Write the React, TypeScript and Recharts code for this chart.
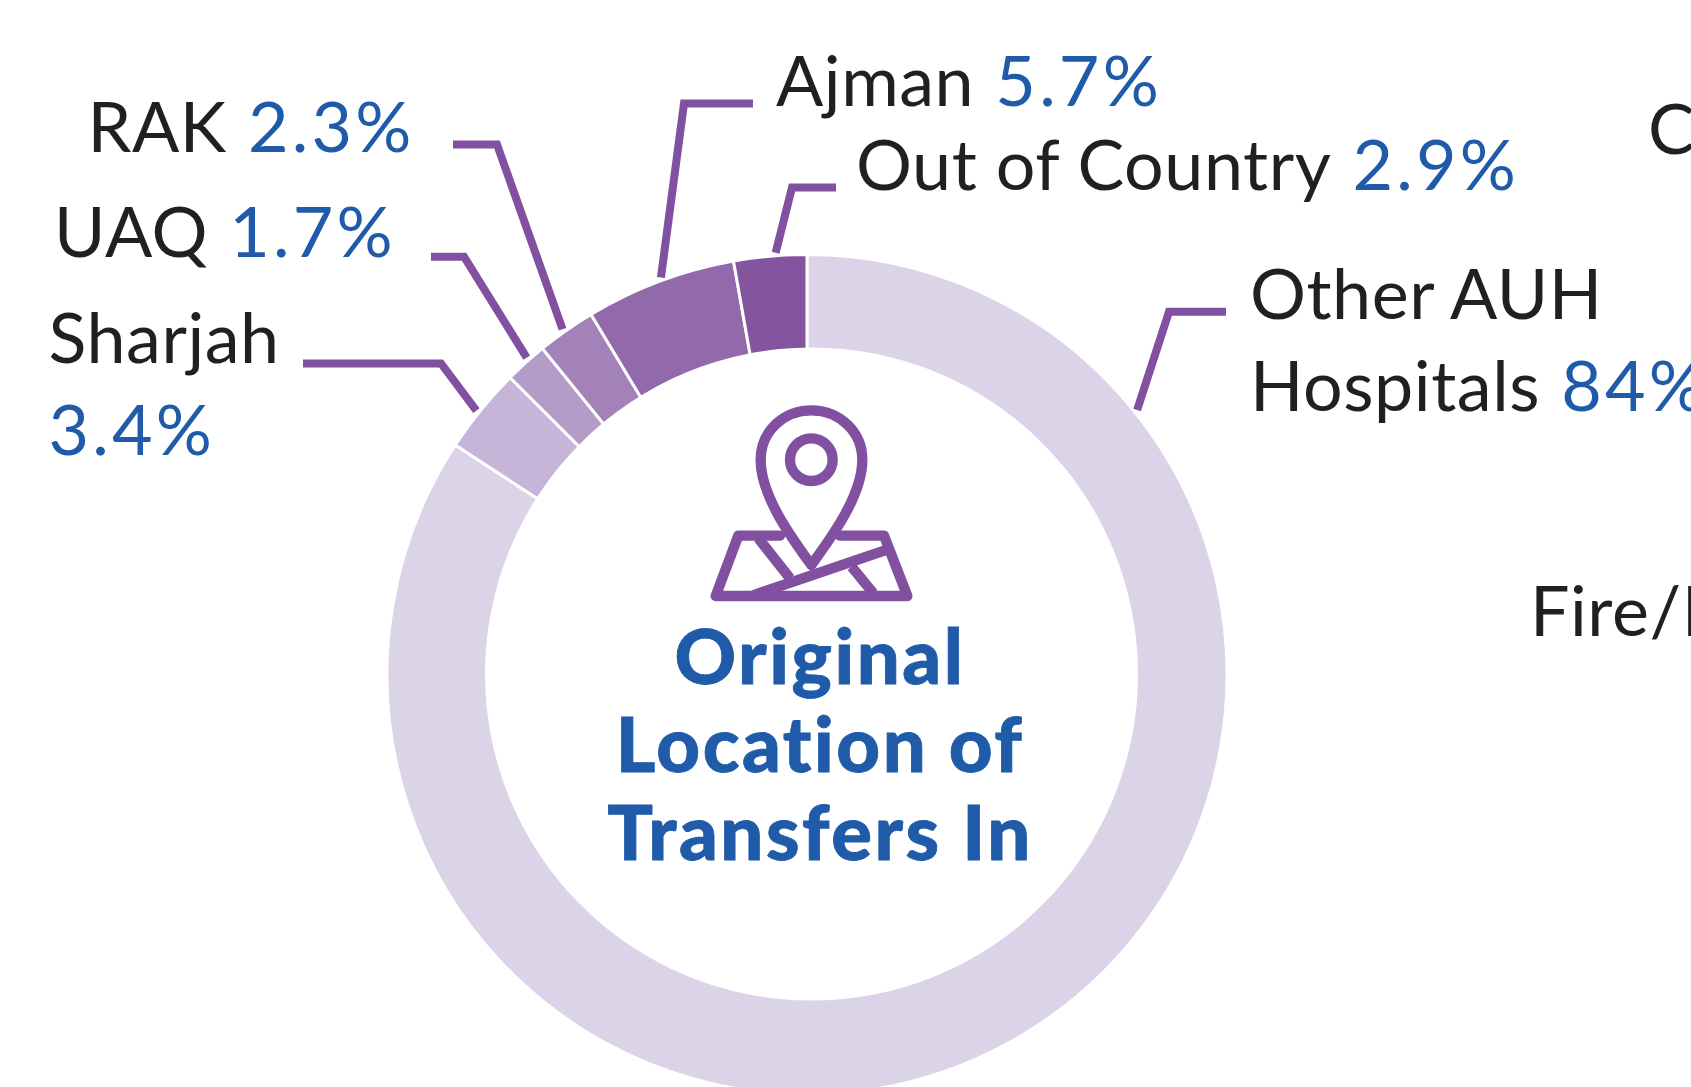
import React from "react";
import { PieChart, Pie, Cell } from "recharts";

const categories = ["Other AUH Hospitals", "Sharjah", "UAQ", "RAK", "Ajman", "Out of Country"];
const shares = [84.2, 3.3, 1.65, 2.25, 5.8, 2.8];
const valueLabels = ["84%", "3.4%", "1.7%", "2.3%", "5.7%", "2.9%"];
const sliceColors = ["#DBD3E8", "#C6B5D8", "#B49CC8", "#A282B8", "#9269AB", "#84549F"];
const titleLines = ["Original", "Location of", "Transfers In"];

const data = categories.map((name, i) => ({ name, value: shares[i] }));

const INK = "#231F20";
const BLUE = "#1F5BA8";
const LINE = "#8250A0";
const FONT = "Lato, 'Open Sans', sans-serif";
const LABEL_SIZE = 70;
const W = 1691;
const H = 1087;

type Layout = {
  lines: { x: number; y: number; name?: string; value?: boolean }[];
  elbow: [number, number];
  end: [number, number];
  angle: number;
};

const layouts: Layout[] = [
  {
    lines: [
      { x: 1250, y: 319, name: "Other AUH" },
      { x: 1250, y: 411, name: "Hospitals", value: true },
    ],
    elbow: [1169, 311.7],
    end: [1226, 311.7],
    angle: 38.7,
  },
  {
    lines: [
      { x: 48.5, y: 363.4, name: "Sharjah" },
      { x: 48.5, y: 455, value: true },
    ],
    elbow: [441, 363.4],
    end: [303, 363.4],
    angle: 141.4,
  },
  { lines: [{ x: 54, y: 256.7, name: "UAQ", value: true }], elbow: [464, 256.7], end: [431, 256.7], angle: 131.5 },
  { lines: [{ x: 87.5, y: 152, name: "RAK", value: true }], elbow: [497, 144.5], end: [453, 144.5], angle: 125.3 },
  { lines: [{ x: 776, y: 105.7, name: "Ajman", value: true }], elbow: [684, 103.5], end: [753, 103.5], angle: 110.2 },
  { lines: [{ x: 856, y: 190, name: "Out of Country", value: true }], elbow: [792, 187.6], end: [836, 187.6], angle: 94.25 },
];

function renderLabel(props: any) {
  const { cx, cy, outerRadius, index } = props;
  const l = layouts[index];
  const a = (l.angle * Math.PI) / 180;
  const r = outerRadius + 3;
  const sx = cx + r * Math.cos(a);
  const sy = cy - r * Math.sin(a);
  return (
    <g key={index}>
      <polyline
        points={`${sx},${sy} ${l.elbow[0]},${l.elbow[1]} ${l.end[0]},${l.end[1]}`}
        fill="none"
        stroke={LINE}
        strokeWidth={8}
        strokeLinejoin="miter"
      />
      {l.lines.map((t, i) => (
        <text key={i} x={t.x} y={t.y} fontFamily={FONT} fontSize={LABEL_SIZE} fill={INK} textAnchor="start">
          {t.name ? <tspan letterSpacing={0.55}>{t.name}</tspan> : null}
          {t.value ? (
            <tspan fill={BLUE} letterSpacing={3.2}>{(t.name ? " " : "") + valueLabels[index]}</tspan>
          ) : null}
        </text>
      ))}
    </g>
  );
}

function MapIcon() {
  return (
    <g transform="translate(680 390) scale(0.3333)" fill="none" stroke={LINE} strokeWidth={31} strokeLinejoin="round" strokeLinecap="round">
      <path d="M394,525 C340,450 242,320 242,210 C242,125 310,61 394,61 C478,61 547,125 547,210 C547,320 448,450 394,525 Z" />
      <circle cx={394} cy={209} r={64} />
      <path d="M300,437 L175,437 L107,618 L682,618 L612,437 L480,437" />
      <path d="M225,614 L615,481" />
      <path d="M235,445 L330,565" strokeLinecap="butt" />
      <path d="M515,530 L580,610" strokeLinecap="butt" />
    </g>
  );
}

export default function App() {
  return (
    <div style={{ position: "absolute", left: 0, top: 0, width: W, height: H, overflow: "hidden", background: "#fff" }}>
      <PieChart width={W} height={H} margin={{ top: 0, right: 0, bottom: 0, left: 0 }}>
        <Pie
          data={data}
          dataKey="value"
          nameKey="name"
          cx={807}
          cy={674.5}
          innerRadius={318}
          outerRadius={420}
          startAngle={90}
          endAngle={-270}
          stroke="#fff"
          strokeWidth={3}
          label={renderLabel}
          labelLine={false}
          isAnimationActive={false}
        >
          {data.map((d, i) => (
            <Cell key={d.name} fill={sliceColors[i]} />
          ))}
        </Pie>
      </PieChart>
      <svg width={W} height={H} style={{ position: "absolute", left: 0, top: 0, pointerEvents: "none" }}>
        <circle cx={811.5} cy={674} r={326.5} fill="#fff" />
        <MapIcon />
        {titleLines.map((t, i) => (
          <text
            key={t}
            x={820}
            y={[684, 772, 859.5][i]}
            textAnchor="middle"
            fontFamily={FONT}
            fontWeight={900}
            fontSize={76}
            letterSpacing={2.5}
            stroke={BLUE}
            strokeWidth={0.8}
            fill={BLUE}
          >
            {t}
          </text>
        ))}
        <text x={1648} y={154} fontFamily={FONT} fontSize={LABEL_SIZE} fill={INK}>C</text>
        <text x={1530} y={636} fontFamily={FONT} fontSize={LABEL_SIZE} letterSpacing={0.55} fill={INK}>Fire/F</text>
      </svg>
    </div>
  );
}
